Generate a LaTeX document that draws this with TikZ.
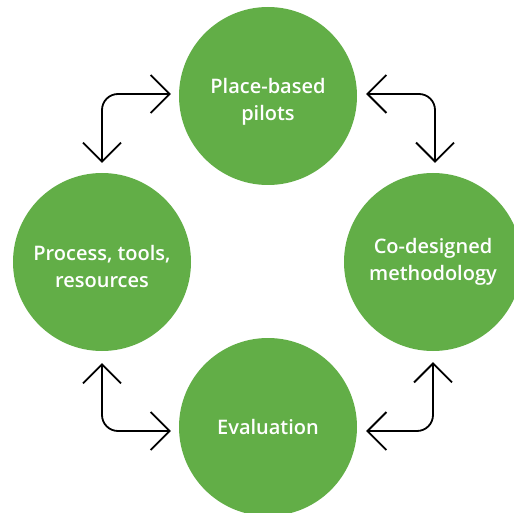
\documentclass[tikz,border=0pt]{standalone}
\usepackage{fontspec}
\setmainfont{Open Sans}
\IfFontExistsTF{Open Sans SemiBold}{\newfontfamily\stagefont{Open Sans SemiBold}}{%
  \IfFontExistsTF{Open Sans Semibold}{\newfontfamily\stagefont{Open Sans Semibold}}{%
    \newfontfamily\stagefont{Open Sans}[FakeBold=2.5]}}
\usetikzlibrary{arrows.meta}
\definecolor{leaf}{HTML}{62AE47}
\begin{document}
\begin{tikzpicture}[x=1pt,y=-1pt,
  stage/.style={circle,fill=leaf,draw=none,minimum size=178pt,inner sep=0pt},
  caption/.style={text=white,align=center,font=\stagefont\fontsize{20pt}{27pt}\selectfont},
  link/.style={line width=1.8pt,rounded corners=16pt,
    {Straight Barb[length=19pt,width=38pt]}-{Straight Barb[length=19pt,width=38pt]}}]
\useasboundingbox (0,0) rectangle (514,513);
\node[stage] (top) at (268,96) {};
\node[stage] (left) at (102,262) {};
\node[stage] (right) at (433,262) {};
\node[stage] (bottom) at (268,427) {};
\node[caption] (topT) at (268,102) {Place-based\\pilots};
\node[caption] (leftT) at (102,266) {Process, tools,\\resources};
\node[caption] (rightT) at (433,262) {Co-designed\\methodology};
\node[caption] (bottomT) at (268,427) {Evaluation};
\draw[link] ([shift={(-8pt,2pt)}]top.west) -| ([yshift=10pt]left.north);
\draw[link] ([shift={(9pt,2pt)}]top.east) -| ([shift={(2pt,10pt)}]right.north);
\draw[link] ([yshift=-12pt]left.south) |- ([shift={(-8pt,-4pt)}]bottom.west);
\draw[link] ([yshift=-11pt]right.south) |- ([shift={(9pt,-4pt)}]bottom.east);
\end{tikzpicture}
\end{document}
